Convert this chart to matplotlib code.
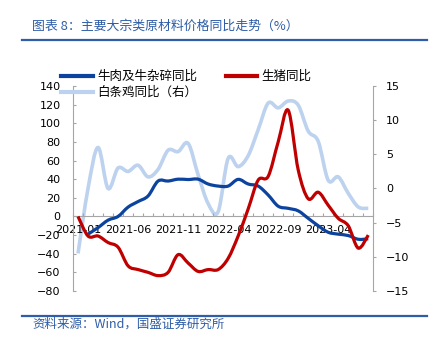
import matplotlib
matplotlib.use("Agg")
import matplotlib.pyplot as plt
import numpy as np
from matplotlib.path import Path
from matplotlib.patches import PathPatch
from matplotlib.lines import Line2D

plt.rcParams['font.family'] = ['Noto Sans CJK SC', 'DejaVu Sans']

# monthly year-on-year change, %
tick_labels = ["2021-01", "2021-06", "2021-11", "2022-04", "2022-09", "2023-04"]
beef = [np.nan, -19, -12, -4, 0, 10, 16, 22, 38, 38, 40, 39.6, 40, 34.8, 32.6,
        32.6, 39.8, 34.8, 32.6, 23, 11, 8.7, 6, -2, -10, -17, -19, -20.5, -24.5, -24]
hog = [0, -21, -21, -28, -33, -53, -57, -60, -63.5, -60, -41, -50, -59, -57, -57,
       -45, -21, 8, 39, 43, 80, 114, 50, 19, 26, 12, -2, -10, -34, -20]
chicken = [-9.5, 0, 6.0, 0, 3, 2.5, 3.4, 1.7, 2.8, 5.6, 5.4, 6.6, 2.0, -2.2, -3.4,
           4.4, 3.2, 4.8, 8.6, 12.5, 11.8, 12.8, 12.2, 8.4, 6.9, 1.2, 1.7, -0.7, -2.7, -2.9]

BLUE = "#0B439E"
RED = "#C00000"
LIGHT = "#BCD2EE"
GRAY = "#A6A6A6"
TITLE_BLUE = "#2F5DA8"


def smooth_path(values):
    # excel-style smoothed line: bezier segments through each point
    y = np.asarray(values, float)
    x = np.arange(len(y), dtype=float)
    ok = ~np.isnan(y)
    x, y = x[ok], y[ok]
    n = len(x)
    pts = np.column_stack([x, y])
    verts = [tuple(pts[0])]
    codes = [Path.MOVETO]
    for i in range(n - 1):
        p0 = pts[max(i - 1, 0)]
        p1 = pts[i]
        p2 = pts[i + 1]
        p3 = pts[min(i + 2, n - 1)]
        verts += [tuple(p1 + (p2 - p0) / 6), tuple(p2 - (p3 - p1) / 6), tuple(p2)]
        codes += [Path.CURVE4] * 3
    return Path(verts, codes)


fig = plt.figure(figsize=(4.38, 3.5), dpi=100)
ax = fig.add_axes([0.1667, 0.1686, 0.6855, 0.5857])
ax2 = ax.twinx()
ax.set_zorder(ax2.get_zorder() + 1)
ax.patch.set_visible(False)

n = len(hog)
ax2.add_patch(PathPatch(smooth_path(chicken), fill=False, edgecolor=LIGHT, lw=2.6,
                        joinstyle="round", capstyle="butt", zorder=3))
ax.add_patch(PathPatch(smooth_path(beef), fill=False, edgecolor=BLUE, lw=2.3,
                       joinstyle="round", capstyle="butt", zorder=3))
ax.add_patch(PathPatch(smooth_path(hog), fill=False, edgecolor=RED, lw=2.3,
                       joinstyle="round", capstyle="butt", zorder=4))

ax.set_xlim(-0.5, n - 0.5)
ax.set_ylim(-80, 140)
ax.set_yticks(range(-80, 141, 20))
ax2.set_ylim(-15, 15)
ax2.set_yticks(range(-15, 16, 5))

for s in ["top", "right"]:
    ax.spines[s].set_visible(False)
for s in ["top", "left", "bottom"]:
    ax2.spines[s].set_visible(False)
ax.spines["left"].set_color(GRAY)
ax.spines["bottom"].set_color(GRAY)
ax.spines["bottom"].set_position(("data", 0))
ax2.spines["right"].set_color(GRAY)

ax.set_xticks(np.arange(n + 1) - 0.5)
ax.set_xticklabels([])
ax.set_xticks(range(0, n, 5), tick_labels, minor=True)
ax.tick_params(axis="x", which="major", direction="in", length=2.5, color=GRAY)
ax.tick_params(axis="x", which="minor", length=0, pad=6.5, labelsize=8)
ax.tick_params(axis="y", direction="in", length=2.5, color=GRAY, pad=9, labelsize=8)
ax2.tick_params(axis="y", direction="out", length=2.5, color=GRAY, pad=6.5, labelsize=8)
for lab in ax.get_xticklabels(minor=True) + ax.get_yticklabels() + ax2.get_yticklabels():
    lab.set_family("DejaVu Sans")

handles = [Line2D([], [], color=BLUE, lw=3),
           Line2D([], [], color=LIGHT, lw=3),
           Line2D([], [], color=RED, lw=3)]
names = ["牛肉及牛杂碎同比", "白条鸡同比（右）", "生猪同比"]
fig.legend(handles, names, loc="upper left", bbox_to_anchor=(0.14, 0.8), ncol=2,
           frameon=False, fontsize=9, handlelength=2.5, handletextpad=0.35,
           columnspacing=2.3, labelspacing=0.25, borderpad=0, borderaxespad=0)

fig.text(0.073, 0.925, "图表 8：主要大宗类原材料价格同比走势（%）", color=TITLE_BLUE,
         fontsize=9.3, va="center", style="italic")
fig.add_artist(Line2D([0.05, 0.974], [0.886, 0.886], color=TITLE_BLUE, lw=1.6))
fig.add_artist(Line2D([0.05, 0.974], [0.097, 0.097], color=TITLE_BLUE, lw=1.6))
fig.text(0.073, 0.073, "资料来源：Wind，国盛证券研究所", color=TITLE_BLUE,
         fontsize=9, va="center", style="italic")

fig.savefig("out.png", dpi=100)
